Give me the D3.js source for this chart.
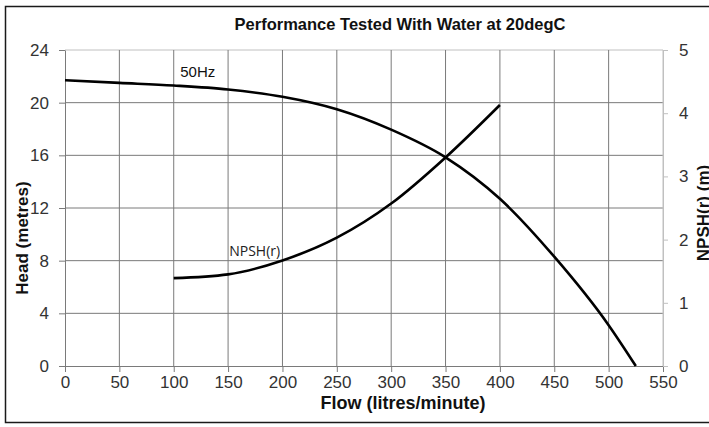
<!DOCTYPE html>
<html><head><meta charset="utf-8">
<script src="https://cdn.jsdelivr.net/npm/d3@7"></script>
<style>
body{margin:0;background:#fff;}
svg{display:block;}
text{font-family:"Liberation Sans",Arial,sans-serif;}
</style></head>
<body>
<svg id="c" width="709" height="427"></svg>
<script>
const flowTicks=[0,50,100,150,200,250,300,350,400,450,500,550];
const headTicks=[0,4,8,12,16,20,24];
const npshTicks=[0,1,2,3,4,5];
const headFlow=[0,50,100,150,200,250,300,350,400,450,500,525];
const headValues=[21.7,21.5,21.3,21.0,20.45,19.5,17.95,15.85,12.7,8.3,3.1,0];
const npshFlow=[100,150,200,250,300,350,400];
const npshValues=[1.39,1.45,1.67,2.03,2.57,3.3,4.13];
const title="Performance Tested With Water at 20degC";

const svg=d3.select("#c");
const L=65,R=663,T=50,B=366;
const x=d3.scaleLinear().domain([0,550]).range([L,R]);
const y=d3.scaleLinear().domain([0,24]).range([B,T]);
const y2=d3.scaleLinear().domain([0,5]).range([B,T]);

svg.append("rect").attr("x",5.5).attr("y",6.5).attr("width",720).attr("height",416)
  .attr("fill","none").attr("stroke","#1a1a1a").attr("stroke-width",1.5);

const grid=svg.append("g");
grid.selectAll("line.h").data(headTicks.filter(d=>d>0)).join("line")
  .attr("x1",L).attr("x2",R).attr("y1",d=>y(d)).attr("y2",d=>y(d))
  .attr("stroke",d=>d===24?"#c0c0c0":"#7a7a7a").attr("stroke-width",1);
grid.selectAll("line.v").data(flowTicks.filter(d=>d>0)).join("line")
  .attr("y1",T).attr("y2",B).attr("x1",d=>x(d)).attr("x2",d=>x(d))
  .attr("stroke",d=>d===550?"#c0c0c0":"#7a7a7a").attr("stroke-width",1);

function styleAxis(g,col){
  g.select(".domain").attr("stroke",col);
  g.selectAll(".tick line").attr("stroke",col);
  g.selectAll(".tick text").attr("fill","#333").style("font-size","17px")
   .style("font-family","'Liberation Sans',Arial,sans-serif");
}
const ga=svg.append("g").attr("transform",`translate(${L},0)`)
  .call(d3.axisLeft(y).tickValues(headTicks).tickSize(6).tickSizeOuter(0).tickPadding(10));
styleAxis(ga,"#7a7a7a");
const gb=svg.append("g").attr("transform",`translate(0,${B})`)
  .call(d3.axisBottom(x).tickValues(flowTicks).tickSize(6).tickSizeOuter(0).tickPadding(4));
styleAxis(gb,"#7a7a7a");
gb.selectAll(".tick text").attr("dy","0.71em");
const gc=svg.append("g").attr("transform",`translate(${R},0)`)
  .call(d3.axisRight(y2).tickValues(npshTicks).tickFormat(d3.format("d")).tickSize(5).tickSizeOuter(0).tickPadding(11));
styleAxis(gc,"#c0c0c0");

const line1=d3.line().x((d,i)=>x(headFlow[i])).y(d=>y(d)).curve(d3.curveMonotoneX);
svg.append("path").attr("d",line1(headValues)).attr("fill","none")
  .attr("stroke","#000").attr("stroke-width",2.6);
const line2=d3.line().x((d,i)=>x(npshFlow[i])).y(d=>y2(d)).curve(d3.curveMonotoneX);
svg.append("path").attr("d",line2(npshValues)).attr("fill","none")
  .attr("stroke","#000").attr("stroke-width",2.6);

svg.append("text").attr("x",x(106)).attr("y",y(21.95)).text("50Hz")
  .style("font-size","15px").attr("fill","#111");
svg.append("text").attr("x",x(151)).attr("y",y2(1.74)).text("NPSH(r)")
  .style("font-family","'Open Sans',sans-serif").style("font-size","14px").attr("fill","#222");

svg.append("text").attr("x",400).attr("y",30).attr("text-anchor","middle")
  .style("font-size","16.5px").style("font-weight","bold").attr("fill","#111").text(title);
svg.append("text").attr("x",403).attr("y",409).attr("text-anchor","middle")
  .style("font-size","18px").style("font-weight","bold").attr("fill","#111").text("Flow (litres/minute)");
svg.append("text").attr("transform","translate(28,238) rotate(-90)").attr("text-anchor","middle")
  .style("font-size","17px").style("font-weight","bold").attr("fill","#111").text("Head (metres)");
svg.append("text").attr("transform","translate(709,213) rotate(-90)").attr("text-anchor","middle")
  .style("font-size","17px").style("font-weight","bold").attr("fill","#111").text("NPSH(r) (m)");
</script>
</body></html>
